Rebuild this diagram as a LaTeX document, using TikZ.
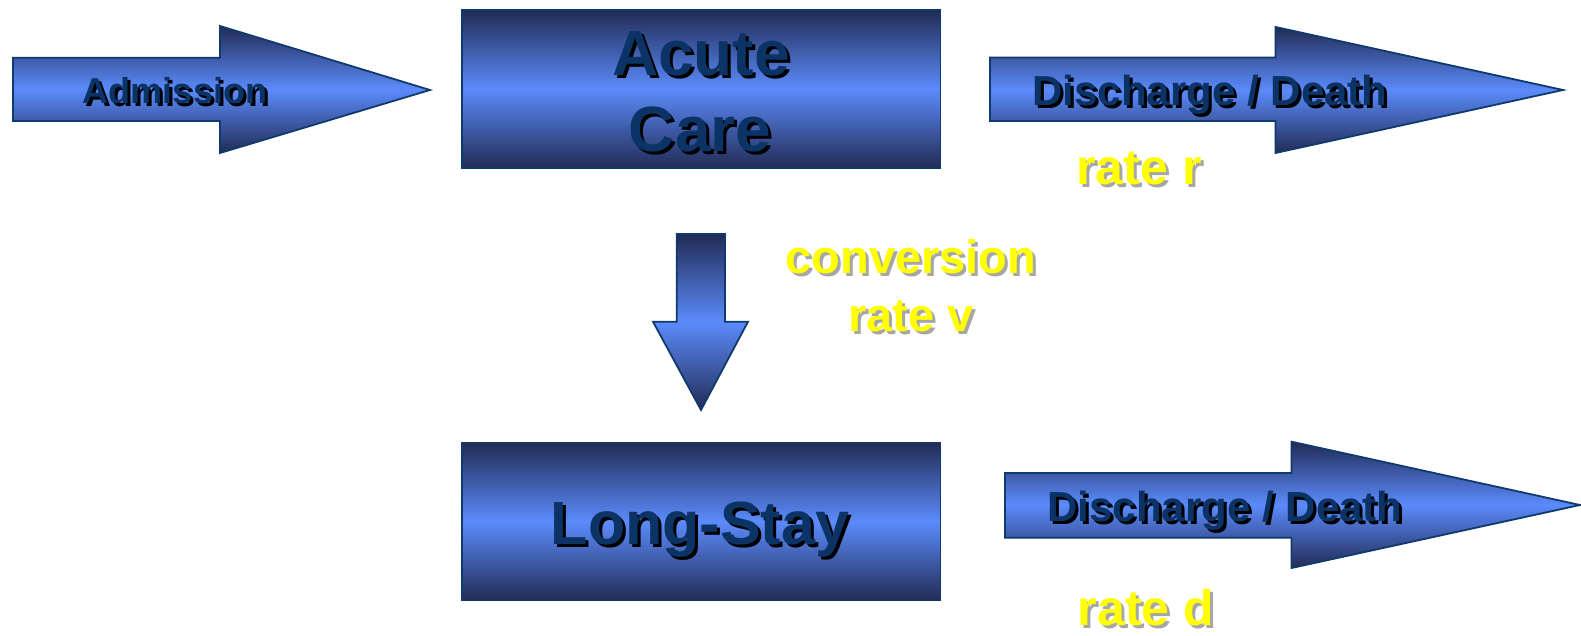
\documentclass[tikz,border=0pt]{standalone}
\usepackage{fontspec}
\setmainfont{Liberation Sans}
\usepackage{tikz}
\definecolor{FlowNavy}{HTML}{222B55}
\definecolor{FlowBlue}{HTML}{5B8BFB}
\definecolor{FlowEdge}{HTML}{0F3A6E}
\definecolor{FlowText}{HTML}{0B3366}
\definecolor{FlowYellow}{HTML}{FFFF00}
\definecolor{FlowShade}{HTML}{A6A6A6}
% text with a small offset shadow behind it
\newcommand{\dropshadow}[2]{\makebox[0pt][l]{\hspace{3pt}\raisebox{-3pt}{\color{#1}#2}}#2}

\begin{document}
\begin{tikzpicture}[x=1pt,y=-1pt,
        blk/.style={draw=FlowEdge,line width=1.8pt,top color=FlowNavy,bottom color=FlowNavy,middle color=FlowBlue},
        ward/.style={blk,rectangle,inner sep=0pt,minimum width=478.5pt,minimum height=158pt},
        lbl/.style={anchor=base,inner sep=0pt,text=FlowText,font=\bfseries\fontsize{#1}{#1}\selectfont},
        rt/.style={anchor=base,inner sep=0pt,text=FlowYellow,font=\bfseries\fontsize{#1}{#1}\selectfont}]
        \useasboundingbox (0,0) rectangle (1581,636);
        % the two wards
        \node[ward] (acute) at (701.25,89) {}; \node[ward] (longstay) at (701.25,521.5) {};
        % block arrows in, out and down
        \draw[blk] (13,57.7)--(220,57.7)--(220,26)--(430,90)--(220,153)--(220,121)--(13,121)--cycle;
        \draw[blk] (990,57.5)--(1275.5,57.5)--(1275.5,27)--(1563,90)--(1275.5,153)--(1275.5,121)--(990,121)--cycle;
        \draw[blk] (1005,473)--(1291.5,473)--(1291.5,441.7)--(1580,505)--(1291.5,568)--(1291.5,537.7)--(1005,537.7)--cycle;
        \draw[blk] (676.7,234)--(725,234)--(725,321.7)--(748,321.7)--(701,410)--(653,321.7)--(676.7,321.7)--cycle;
        % labels
        \node[lbl=36] (admit) at (175,103.3) {\dropshadow{black}{Admission}};
        \node[lbl=64] (acuteA) at (701,76) {\dropshadow{black}{Acute}}; \node[lbl=64] (acuteB) at (700,151.5) {\dropshadow{black}{Care}};
        \node[lbl=61] (stay) at (700,544) {\dropshadow{black}{Long-Stay}};
        \node[lbl=42] (outA) at (1210,105.5) {\dropshadow{black}{Discharge / Death}};
        \node[lbl=42] (outB) at (1225,521.7) {\dropshadow{black}{Discharge / Death}};
        \node[rt=50] (rateR) at (1139,185) {\dropshadow{FlowShade}{rate r}};
        \node[rt=47] (convA) at (911,273) {\dropshadow{FlowShade}{conversion}}; \node[rt=47] (convB) at (911,331.7) {\dropshadow{FlowShade}{rate v}};
        \node[rt=50] (rateD) at (1146,625) {\dropshadow{FlowShade}{rate d}};
      \end{tikzpicture}
\end{document}
